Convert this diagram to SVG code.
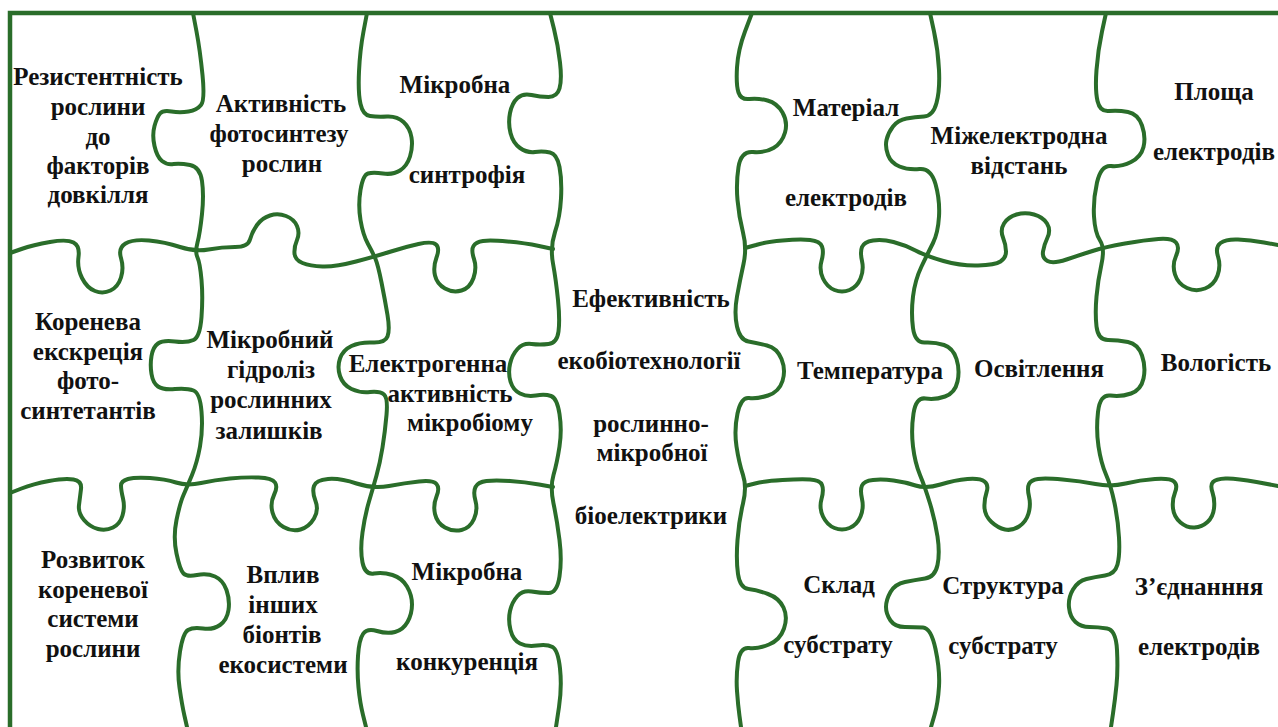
<svg xmlns="http://www.w3.org/2000/svg" width="1278" height="727" viewBox="0 0 1278 727">
<style>
.ln{fill:none;stroke:#2a6d2a;stroke-width:4;stroke-linecap:round;stroke-linejoin:round}
.fr{fill:none;stroke:#2a6d2a;stroke-width:4.5}
text{font-family:"Liberation Serif","Times New Roman",serif;font-weight:bold;font-size:25px;fill:#111;text-anchor:middle}
</style>
<rect width="1278" height="727" fill="#fff"/>
<g id="connectors">
<path class="fr" d="M10,727 V13 H1278"/>
<path class="ln" d="M193,13 L196.5,31.5 Q200,50 202.5,75 T201,105 T188.5,111.5 T171.5,111.5 T160,113.5 T154.5,126 T154.5,146 T162,161 T173.5,164 T190,165 T202,181 T202,214 T197.5,242.5 T197.5,257.5 T201.5,280 T201.5,317 T193.5,340 T175,341.5 T158,343.5 T151.5,356 T151.5,374 T158,386.5 T175,389 T193.5,390.5 T201.5,411.5 T200,446.5 T192,475 T183.5,495 T176.5,520 T176.5,553.5 T183.5,573.5 T197,575 T215,576.5 T226.5,590 T228.5,610 T220,625 T203,628.5 T188,630 T180,651.5 T179.5,687.5 T184.5,716 L187,727"/>
<path class="ln" d="M367,13 L363.5,31.5 Q360,50 359,71.5 T360.5,104 T370,116 T387,116.5 T403.5,122 T411.5,137.5 T410,156.5 T400,170.5 T383,173.5 T368,173.5 T360.5,190 T360.5,220 T368,244 T375.5,259 T381.5,282.5 T387.5,315 T387.5,336.5 T372.5,342.5 T351.5,346 T340,358.5 T340,376 T351.5,389 T370,392 T384,394.5 T386.5,415 T382.5,447.5 T376.5,475.5 T369,501.5 T362.5,532.5 T362.5,562.5 T374,573.5 T392.5,575 T407,586.5 T412,604.5 T407.5,622 T395,632 T377,631 T363,634 T358,656 T358.5,687.5 T363,715 L366,727"/>
<path class="ln" d="M550,13 L554,29 Q558,45 560,62.5 T559.5,88.5 T548.5,97 T531.5,95 T517.5,98 T510,113 T510.5,133 T520,148 T535,152 T550,152.5 T559.5,167 T561,198.5 T555,232 T553,263.5 T558,300 T558.5,331.5 T548.5,344 T531.5,344 T517.5,349 T510,364 T510.5,381.5 T520,393.5 T536,395.5 T551,396 T559.5,414 T559.5,446.5 T553.5,475 T553.5,503.5 T559.5,540 T559.5,576.5 T548.5,593 T531.5,591.5 T517.5,596 T510,611 T510.5,630 T520,643.5 T537,645.5 T552.5,647 T560,668.5 T559,707 L556,727"/>
<path class="ln" d="M752,13 L745,31.5 Q738,50 737,67.5 T738.5,92.5 T749.5,99 T767.5,100.5 T782.5,112.5 T785,132.5 T773.5,148 T753,152 T738.5,167 T737.5,200 T743,232.5 T743.5,264 T737,296.5 T737,326.5 T748.5,341.5 T767,345.5 T781.5,359 T782.5,381 T768,395.5 T749,398 T737.5,413.5 T736.5,446.5 T743,475 T743,503.5 T737.5,540 T738,574 T748.5,589 T768,594 T783.5,607.5 T784,628.5 T769,644.5 T749,648 T738,662 T737,691 T739.5,716 L741,727"/>
<path class="ln" d="M930,13 L934,31.5 Q938,50 939,70 T936.5,103 T924,116.5 T906.5,118.5 T893,126.5 T886.5,140 T888,155 T899.5,166.5 T919.5,169 T935.5,184 T939,216.5 T933,243 T921.5,266.5 T913,296.5 T913,328 T925,342.5 T944,345 T956.5,359 T957.5,381.5 T945,396.5 T925.5,398.5 T913.5,413.5 T913,446.5 T920,475 T930,503.5 T937.5,536.5 T937.5,565 T925,578.5 T905,582 T890.5,592 T886,607 T890.5,620.5 T905,627 T923,627.5 T935.5,649 T939,686.5 T934.5,715 L931,727"/>
<path class="ln" d="M1106,13 L1102,31.5 Q1098,50 1096.5,70 T1097.5,101 T1109,111 T1128,112 T1142,125.5 T1143.5,147 T1131,162 T1111,166 T1097,182.5 T1094,216.5 T1100,240.5 T1101.5,264 T1096.5,296.5 T1096.5,326.5 T1108,340 T1128,342 T1142,355.5 T1143.5,378.5 T1131,393.5 T1110.5,395.5 T1098,412 T1098.5,446.5 T1106,474.5 T1114.5,503 T1119,537.5 T1117.5,564.5 T1105,575.5 T1086.5,579 T1073,589.5 T1069,607.5 T1075.5,622 T1089.5,627 T1107,628.5 T1117,650 T1116.5,685 T1113,713.5 L1111,727"/>
<path class="ln" d="M10,253 L21.5,249 Q33,245 50,242 T73.5,242.5 T78.5,257 T82,278 T95,291 T110.5,290.5 T121,277.5 T121,258 T125.5,243.5 T149,240.5 T180,247 T208.5,249.5 T235,247 T250,239.5 T257,225 T270,215.5 T286,216 T297,226 T297,240 T294.5,253.5 T302.5,263 T322.5,266.5 T356,261.5 T391,251.5 T418.5,244 T436,244.5 T436.5,257.5 T435,275.5 T445,288.5 T461.5,290.5 T473.5,278 T474,259 T473.5,246 T483,241 T507.5,241.5 T539,246 L553,249"/>
<path class="ln" d="M745,248 L756,245 Q765,242 782.5,240.5 T810,240 T822,246.5 T821.5,261 T823,278.5 T834.5,290 T849.5,290 T860.5,278.5 T862,261 T862,247 T873,240.5 T893.5,242 T915.5,250.5 T943.5,261 T978,265.5 T1000.5,261.5 T1006,251.5 T1003,237.5 T1004,223.5 T1016.5,214.5 T1034,214.5 T1047,223.5 T1047.5,237.5 T1043,251.5 T1047.5,261 T1066.5,259.5 T1092.5,251 T1125,243.5 T1158.5,239 T1176,242.5 T1176,256 T1175,274.5 T1187,288 T1205,288.5 T1217.5,275.5 T1218,256.5 T1220.5,243 T1238,239.5 T1264,242.5 L1278,245"/>
<path class="ln" d="M10,493 L21.5,488.5 Q33,484 49,481 T73.5,479.5 T81,489 T79,505 T84,520 T98,529 T113,527.5 T122.5,515.5 T123,498.5 T121,485.5 T128,479 T150,478 T176,482.5 T201,483 T230,478.5 T258.5,477.5 T275,482.5 T274,495 T272.5,512.5 T283.5,527 T300.5,529.5 T314,518.5 T315.5,501 T314,486 T328,479 T356.5,483.5 T389,486 T419,481.5 T436.5,484 T436.5,496.5 T435,514 T445,527.5 T461.5,530 T474,519 T475.5,501 T475.5,487 T486.5,481 T510,481 T539,484.5 L553,487"/>
<path class="ln" d="M745,486 L755,483.5 Q765,481 782.5,480 T810,479.5 T822,485 T821.5,499 T823,516.5 T834.5,528 T849.5,528 T860.5,516.5 T862,499 T862,485.5 T873,480 T893.5,480.5 T915.5,485.5 T940.5,484.5 T967.5,479 T984.5,481.5 T986.5,492.5 T984.5,508 T991.5,522 T1005,529.5 T1019,526.5 T1028.5,513.5 T1029,496.5 T1029,484 T1038,479 T1062.5,479.5 T1095.5,484 T1125.5,483.5 T1155,479 T1174,481.5 T1175,492.5 T1173,508.5 T1180.5,522.5 T1194.5,527.5 T1207.5,522 T1214,508.5 T1212.5,492.5 T1213,482 T1225.5,478.5 T1256.5,482 L1278,486"/>
</g>
<g id="node-resistance"><text x="98" y="85">Резистентність</text><text x="98" y="115">рослини</text><text x="98" y="145">до</text><text x="98" y="174">факторів</text><text x="98" y="203">довкілля</text></g>
<g id="node-photosynthesis"><text x="281" y="112">Активність</text><text x="279" y="142">фотосинтезу</text><text x="282" y="172">рослин</text></g>
<g id="node-syntrophy"><text x="455" y="93">Мікробна</text><text x="467" y="183">синтрофія</text></g>
<g id="node-center"><text x="651" y="307">Ефективність</text><text x="649" y="369">екобіотехнології</text><text x="651" y="432">рослинно-</text><text x="652" y="461">мікробної</text><text x="651" y="524">біоелектрики</text></g>
<g id="node-root-excretion"><text x="88" y="330">Коренева</text><text x="88" y="360">екскреція</text><text x="88" y="389">фото-</text><text x="88" y="419">синтетантів</text></g>
<g id="node-hydrolysis"><text x="270" y="348">Мікробний</text><text x="271" y="378">гідроліз</text><text x="271" y="408">рослинних</text><text x="269" y="439">залишків</text></g>
<g id="node-electrogenic"><text x="428" y="372">Електрогенна</text><text x="450" y="402">активність</text><text x="470" y="431">мікробіому</text></g>
<g id="node-root-development"><text x="93" y="568">Розвиток</text><text x="93" y="598">кореневої</text><text x="93" y="627">системи</text><text x="93" y="657">рослини</text></g>
<g id="node-biont-influence"><text x="283" y="583">Вплив</text><text x="283" y="613">інших</text><text x="282" y="643">біонтів</text><text x="283" y="673">екосистеми</text></g>
<g id="node-competition"><text x="467" y="580">Мікробна</text><text x="467" y="670">конкуренція</text></g>
<g id="node-electrode-material"><text x="846" y="116">Матеріал</text><text x="846" y="206">електродів</text></g>
<g id="node-interelectrode"><text x="1019" y="144">Міжелектродна</text><text x="1019" y="174">відстань</text></g>
<g id="node-electrode-area"><text x="1214" y="100">Площа</text><text x="1214" y="160">електродів</text></g>
<g id="node-temperature"><text x="870" y="379">Температура</text></g>
<g id="node-lighting"><text x="1039" y="377">Освітлення</text></g>
<g id="node-humidity"><text x="1216" y="371">Вологість</text></g>
<g id="node-substrate-composition"><text x="839" y="593">Склад</text><text x="838" y="653">субстрату</text></g>
<g id="node-substrate-structure"><text x="1003" y="594">Структура</text><text x="1003" y="654">субстрату</text></g>
<g id="node-electrode-connection"><text x="1199" y="595">З’єднанння</text><text x="1199" y="655">електродів</text></g>
</svg>
